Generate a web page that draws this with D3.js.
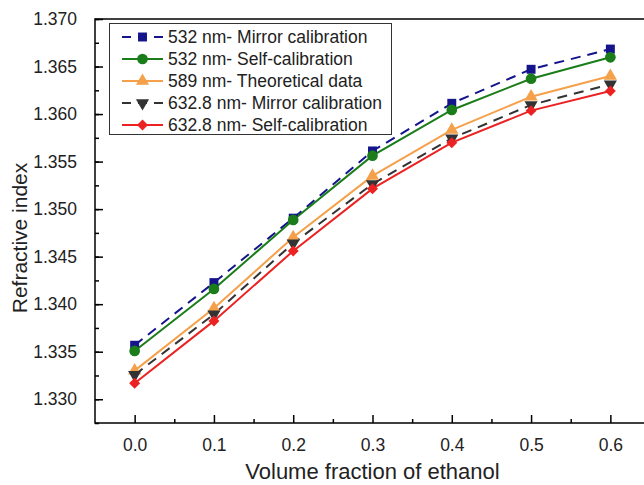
<!DOCTYPE html>
<html>
<head>
<meta charset="utf-8">
<script src="https://cdn.jsdelivr.net/npm/d3@7"></script>
<style>
  body { margin: 0; background: #fff; }
  svg { display: block; font-family: Arial, "Liberation Sans", sans-serif; }
</style>
</head>
<body>
<div id="chart"></div>
<script>
// volume fraction of ethanol
const fractions = [0.0, 0.1, 0.2, 0.3, 0.4, 0.5, 0.6];

const mirror532 = [1.33568, 1.34227, 1.34905, 1.35612, 1.36113, 1.36471, 1.36684];
const self532 = [1.33508, 1.34160, 1.34886, 1.35562, 1.36043, 1.36372, 1.36597];
const theory589 = [1.33301, 1.33957, 1.34704, 1.35349, 1.35833, 1.36183, 1.36400];
const mirror633 = [1.33256, 1.33894, 1.34641, 1.35265, 1.35745, 1.36096, 1.36313];
const self633 = [1.33169, 1.33824, 1.34560, 1.35215, 1.35699, 1.36036, 1.36243];

const seriesNames = [
  '532 nm- Mirror calibration',
  '532 nm- Self-calibration',
  '589 nm- Theoretical data',
  '632.8 nm- Mirror calibration',
  '632.8 nm- Self-calibration'
];

const xTicks = [0.0, 0.1, 0.2, 0.3, 0.4, 0.5, 0.6];
const yTicks = [1.330, 1.335, 1.340, 1.345, 1.350, 1.355, 1.360, 1.365, 1.370];

const series = [
  { name: seriesNames[0], values: mirror532, color: '#14148c', dash: '10,7', marker: 'square' },
  { name: seriesNames[1], values: self532, color: '#1a7d1a', dash: null, marker: 'circle' },
  { name: seriesNames[2], values: theory589, color: '#f5a04a', dash: null, marker: 'triangle' },
  { name: seriesNames[3], values: mirror633, color: '#333333', dash: '10,7', marker: 'triangleDown' },
  { name: seriesNames[4], values: self633, color: '#ec2222', dash: null, marker: 'diamond' }
];

const W = 644, H = 485;
const margin = { top: 19, left: 95 };
const plotRight = 650, plotBottom = 423;

const svg = d3.select('#chart').append('svg')
  .attr('width', W)
  .attr('height', H);

const x = d3.scaleLinear().domain([-0.05, 0.65]).range([margin.left, plotRight]);
const y = d3.scaleLinear().domain([1.3275, 1.370]).range([plotBottom, margin.top]);

function markerPath(type) {
  const sym = {
    square: d3.symbol().type(d3.symbolSquare).size(80),
    circle: d3.symbol().type(d3.symbolCircle).size(90),
    triangle: d3.symbol().type(d3.symbolTriangle).size(75),
    triangleDown: d3.symbol().type(d3.symbolTriangle).size(75),
    diamond: d3.symbol().type(d3.symbolSquare).size(60)
  };
  return sym[type]();
}

function markerRot(type) {
  if (type === 'triangleDown') return ' rotate(180)';
  if (type === 'diamond') return ' rotate(45)';
  return '';
}

// lines
const line = d3.line()
  .x((d, i) => x(fractions[i]))
  .y(d => y(d));

series.forEach(s => {
  svg.append('path')
    .datum(s.values)
    .attr('fill', 'none')
    .attr('stroke', s.color)
    .attr('stroke-width', 2)
    .attr('stroke-dasharray', s.dash)
    .attr('d', line);
});

// markers (drawn after all lines)
series.forEach(s => {
  svg.append('g').selectAll('path')
    .data(s.values)
    .enter()
    .append('path')
    .attr('fill', s.color)
    .attr('d', markerPath(s.marker))
    .attr('transform', (d, i) => 'translate(' + x(fractions[i]) + ',' + y(d) + ')' + markerRot(s.marker));
});

// axes: inward ticks, minor ticks between
const yAxis = d3.axisLeft(y).tickValues(yTicks).tickSize(-8).tickFormat(d3.format('.3f')).tickPadding(18);
const yMinor = d3.axisLeft(y).tickValues(d3.range(1.3275, 1.3701, 0.0025)).tickSize(-4).tickFormat('');
const xAxis = d3.axisBottom(x).tickValues(xTicks).tickSize(-8).tickFormat(d3.format('.1f')).tickPadding(16);
const xMinor = d3.axisBottom(x).tickValues(d3.range(0.05, 0.65, 0.1)).tickSize(-4).tickFormat('');

function styleAxis(g) {
  g.select('.domain').remove();
  g.selectAll('line').attr('stroke', '#000').attr('stroke-width', 1.5);
  g.selectAll('text').attr('fill', '#222').style('font-size', '17.5px');
}

svg.append('g').attr('transform', 'translate(' + margin.left + ',0)').call(yMinor).call(styleAxis);
svg.append('g').attr('transform', 'translate(' + margin.left + ',0)').call(yAxis).call(styleAxis);
svg.append('g').attr('transform', 'translate(0,' + plotBottom + ')').call(xMinor).call(styleAxis);
svg.append('g').attr('transform', 'translate(0,' + plotBottom + ')').call(xAxis).call(styleAxis);

// frame
svg.append('rect')
  .attr('x', margin.left)
  .attr('y', margin.top)
  .attr('width', plotRight - margin.left)
  .attr('height', plotBottom - margin.top)
  .attr('fill', 'none')
  .attr('stroke', '#000')
  .attr('stroke-width', 1.5);

// axis titles
svg.append('text')
  .attr('x', 372.5)
  .attr('y', 479)
  .attr('text-anchor', 'middle')
  .attr('fill', '#222')
  .style('font-size', '22px')
  .text('Volume fraction of ethanol');

svg.append('text')
  .attr('transform', 'translate(27,238) rotate(-90)')
  .attr('text-anchor', 'middle')
  .attr('fill', '#222')
  .style('font-size', '21px')
  .text('Refractive index');

// legend
const legend = svg.append('g');
legend.append('rect')
  .attr('x', 109.5)
  .attr('y', 23.5)
  .attr('width', 282)
  .attr('height', 111)
  .attr('fill', '#fff')
  .attr('stroke', '#333')
  .attr('stroke-width', 1);

series.forEach((s, i) => {
  const cy = 37 + i * 22;
  const row = legend.append('g');
  row.append('line')
    .attr('x1', 122).attr('x2', 163)
    .attr('y1', cy).attr('y2', cy)
    .attr('stroke', s.color)
    .attr('stroke-width', 2)
    .attr('stroke-dasharray', s.dash ? '9,7' : null);
  row.append('path')
    .attr('fill', s.color)
    .attr('d', markerPath(s.marker))
    .attr('transform', 'translate(142.5,' + cy + ')' + markerRot(s.marker));
  row.append('text')
    .attr('x', 168)
    .attr('y', cy)
    .attr('dy', '0.35em')
    .attr('fill', '#222')
    .style('font-size', '17.5px')
    .text(s.name);
});
</script>
</body>
</html>
